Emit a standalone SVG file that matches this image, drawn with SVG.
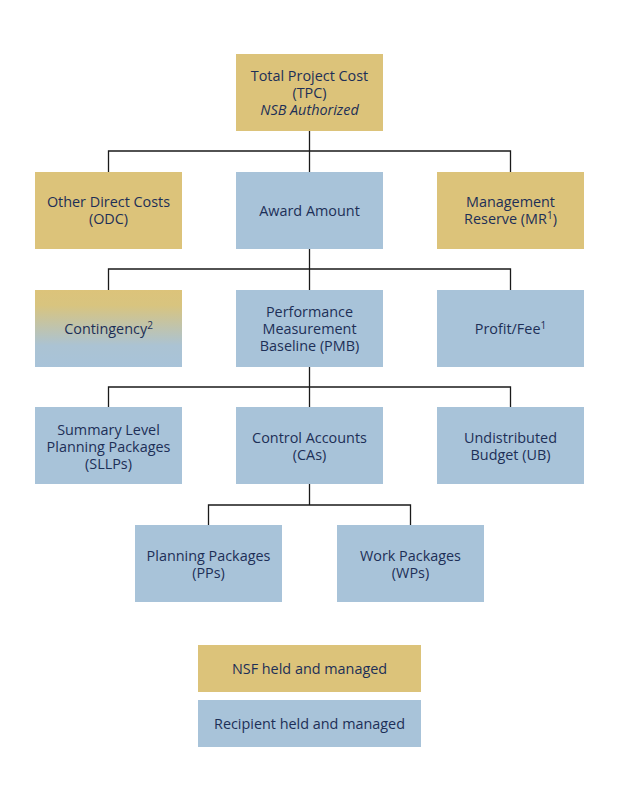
<svg xmlns="http://www.w3.org/2000/svg" width="622" height="805" viewBox="0 0 622 805">
<defs>
<linearGradient id="contGrad" x1="0" y1="0" x2="0" y2="1">
<stop offset="0" stop-color="#dcc37a"/>
<stop offset="0.2" stop-color="#d8c47f"/>
<stop offset="0.72" stop-color="#abc3d3"/>
<stop offset="1" stop-color="#a8c3d9"/>
</linearGradient>
<style>
.gold{fill:#dcc37a}
.blue{fill:#a8c3d9}
text{font-family:"Open Sans","Noto Sans","DejaVu Sans",sans-serif;font-size:14.4px;fill:#1d2f57;text-anchor:middle}
.it{font-style:italic}
.sup{font-size:10px}
.conn{stroke:#1a1a1a;stroke-width:1.3;fill:none}
</style>
</defs>
<rect width="622" height="805" fill="#ffffff"/>
<g id="connectors">
<path class="conn" d="M309.5 131V151M108.5 172V151H510.5V172M309.5 151V172"/>
<path class="conn" d="M309.5 249V269M108.5 290V269H510.5V290M309.5 269V290"/>
<path class="conn" d="M309.5 367V387M108.5 407V387H510.5V407M309.5 387V407"/>
<path class="conn" d="M309.5 484V505M208.5 525V505H410.5V525"/>
</g>
<g id="tpc"><rect class="gold" x="236" y="54" width="147" height="77"/><text x="309.5" y="81">Total Project Cost</text><text x="309.5" y="98">(TPC)</text><text class="it" x="309.5" y="115">NSB Authorized</text></g>
<g id="odc"><rect class="gold" x="35" y="172" width="147" height="77"/><text x="108.5" y="207">Other Direct Costs</text><text x="108.5" y="224">(ODC)</text></g>
<g id="award"><rect class="blue" x="236" y="172" width="147" height="77"/><text x="309.5" y="216">Award Amount</text></g>
<g id="mr"><rect class="gold" x="437" y="172" width="147" height="77"/><text x="510.5" y="207">Management</text><text x="510.5" y="224">Reserve (MR<tspan class="sup" dy="-5">1</tspan><tspan dy="5">)</tspan></text></g>
<g id="contingency"><rect fill="url(#contGrad)" x="35" y="290" width="147" height="77"/><text x="108.5" y="334">Contingency<tspan class="sup" dy="-5">2</tspan></text></g>
<g id="pmb"><rect class="blue" x="236" y="290" width="147" height="77"/><text x="309.5" y="317">Performance</text><text x="309.5" y="334">Measurement</text><text x="309.5" y="351">Baseline (PMB)</text></g>
<g id="fee"><rect class="blue" x="437" y="290" width="147" height="77"/><text x="510.5" y="334">Profit/Fee<tspan class="sup" dy="-5">1</tspan></text></g>
<g id="sllp"><rect class="blue" x="35" y="407" width="147" height="77"/><text x="108.5" y="435">Summary Level</text><text x="108.5" y="452">Planning Packages</text><text x="108.5" y="469">(SLLPs)</text></g>
<g id="ca"><rect class="blue" x="236" y="407" width="147" height="77"/><text x="309.5" y="443">Control Accounts</text><text x="309.5" y="460">(CAs)</text></g>
<g id="ub"><rect class="blue" x="437" y="407" width="147" height="77"/><text x="510.5" y="443">Undistributed</text><text x="510.5" y="460">Budget (UB)</text></g>
<g id="pp"><rect class="blue" x="135" y="525" width="147" height="77"/><text x="208.5" y="561">Planning Packages</text><text x="208.5" y="578">(PPs)</text></g>
<g id="wp"><rect class="blue" x="337" y="525" width="147" height="77"/><text x="410.5" y="561">Work Packages</text><text x="410.5" y="578">(WPs)</text></g>
<g id="legend-nsf"><rect class="gold" x="198" y="645" width="223" height="47"/><text x="309.5" y="674">NSF held and managed</text></g>
<g id="legend-recipient"><rect class="blue" x="198" y="700" width="223" height="47"/><text x="309.5" y="729">Recipient held and managed</text></g>
</svg>
